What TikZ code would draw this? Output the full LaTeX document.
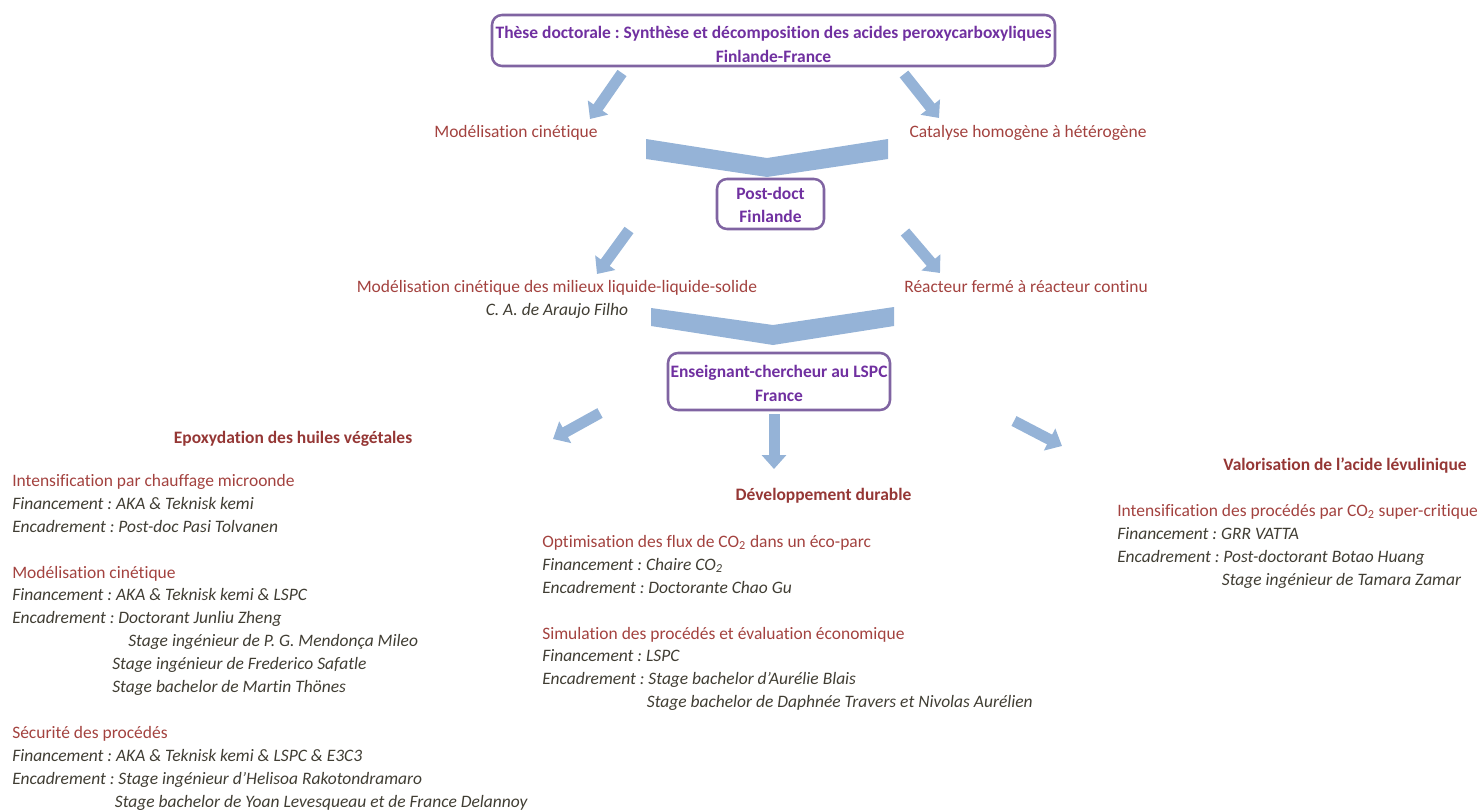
\documentclass[tikz,border=0pt]{standalone}
\usepackage{fontspec}
\setmainfont{Carlito}[Ligatures={NoCommon}]
\usetikzlibrary{arrows.meta}
\definecolor{boxline}{HTML}{8064A2}
\definecolor{boxtext}{HTML}{7030A0}
\definecolor{arrowblue}{HTML}{95B3D7}
\definecolor{redtxt}{HTML}{A3423F}
\definecolor{headred}{HTML}{953735}
\definecolor{graytxt}{HTML}{403D33}
\newcommand\lineT[1]{{\color{redtxt}#1}}
\newcommand\lineI[1]{{\color{graytxt}\itshape #1}}
\frenchspacing
\begin{document}
\begin{tikzpicture}[x=0.75pt,y=-0.75pt,
  box/.style={draw=boxline, line width=1.9pt, rounded corners=7.5pt, text=boxtext,
    font=\bfseries\fontsize{13.1}{18}\selectfont, align=center, inner sep=0pt},
  lab/.style={text=redtxt, font=\fontsize{13.1}{17.2}\selectfont, inner sep=0pt, align=center},
  heading/.style={text=headred, font=\bfseries\fontsize{13.1}{17.2}\selectfont, inner sep=0pt},
  col/.style={font=\fontsize{13.1}{17.2}\selectfont, align=left, inner sep=0pt, anchor=north west},
  barrow/.style={draw=arrowblue, line width=8.25pt, -{Triangle[width=18pt,length=10.5pt]}},
  chev/.style={fill=arrowblue, draw=none}]
\useasboundingbox (0,0) rectangle (1482,810);

% boxes
\node[box, minimum width=422.25pt, minimum height=38.25pt] (these) at (773.5,40.5)
  {\rule{0pt}{15.75pt}Thèse doctorale : Synthèse et décomposition des acides peroxycarboxyliques\\Finlande-France};
\node[box, minimum width=80.25pt, minimum height=37.5pt, font=\bfseries\fontsize{13.1}{17.25}\selectfont] (postdoc) at (770.5,204)
  {\rule{0pt}{11.25pt}Post-doct\\Finlande};
\node[box, minimum width=166.5pt, minimum height=42.75pt] (lspc) at (779,381.5)
  {\rule{0pt}{12.75pt}Enseignant-chercheur au LSPC\\France};

% first level labels
\node[lab, anchor=base] (modcin) at (516,137) {Modélisation cinétique};
\node[lab, anchor=base] (catal) at (1028,137) {Catalyse homogène à hétérogène};
\node[lab, anchor=north] (modlls) at (557,276)
  {\strut Modélisation cinétique des milieux liquide-liquide-solide\\\lineI{C. A. de Araujo Filho}};
\node[lab, anchor=base] (reac) at (1026,292) {Réacteur fermé à réacteur continu};

% headings
\node[heading, anchor=base] (epox) at (293,443) {Epoxydation des huiles végétales};
\node[heading, anchor=base] (dev) at (823.5,500) {Développement durable};
\node[heading, anchor=base] (valo) at (1345,470) {Valorisation de l’acide lévulinique};

% columns
\node[col] (colL) at (12,470) {\strut\lineT{Intensification par chauffage microonde}\\
\lineI{Financement : AKA \& Teknisk kemi}\\
\lineI{Encadrement : Post-doc Pasi Tolvanen}\\[17.2pt]
\lineT{Modélisation cinétique}\\
\lineI{Financement : AKA \& Teknisk kemi \& LSPC}\\
\lineI{Encadrement : Doctorant Junliu Zheng}\\
\lineI{\hspace*{87pt}Stage ingénieur de P. G. Mendonça Mileo}\\
\lineI{\hspace*{75pt}Stage ingénieur de Frederico Safatle}\\
\lineI{\hspace*{75pt}Stage bachelor de Martin Thönes}\\[17.2pt]
\lineT{Sécurité des procédés}\\
\lineI{Financement : AKA \& Teknisk kemi \& LSPC \& E3C3}\\
\lineI{Encadrement : Stage ingénieur d’Helisoa Rakotondramaro}\\
\lineI{\hspace*{77pt}Stage bachelor de Yoan Levesqueau et de France Delannoy}};

\node[col] (colM) at (542,531) {\strut\lineT{Optimisation des flux de CO\textsubscript{2} dans un éco-parc}\\
\lineI{Financement : Chaire CO\textsubscript{2}}\\
\lineI{Encadrement : Doctorante Chao Gu}\\[17.2pt]
\lineT{Simulation des procédés et évaluation économique}\\
\lineI{Financement : LSPC}\\
\lineI{Encadrement : Stage bachelor d’Aurélie Blais}\\
\lineI{\hspace*{78.5pt}Stage bachelor de Daphnée Travers et Nivolas Aurélien}};

\node[col] (colR) at (1117,500) {\strut\lineT{Intensification des procédés par CO\textsubscript{2} super-critique}\\
\lineI{Financement : GRR VATTA}\\
\lineI{Encadrement : Post-doctorant Botao Huang}\\
\lineI{\hspace*{78.5pt}Stage ingénieur de Tamara Zamar}};

% arrow coordinates
\coordinate (a1s) at (622,73);   \coordinate (a1e) at (590,119);
\coordinate (a2s) at (904,74);   \coordinate (a2e) at (939,118);
\coordinate (a3s) at (629,230);  \coordinate (a3e) at (597,274);
\coordinate (a4s) at (905,232);  \coordinate (a4e) at (940,273);
\coordinate (a5s) at (600,413);  \coordinate (a5e) at (553,439);
\coordinate (a6s) at (774,414);  \coordinate (a6e) at (774,469);
\coordinate (a7s) at (1014,421); \coordinate (a7e) at (1062,446);

\draw[barrow] (a1s) -- (a1e);
\draw[barrow] (a2s) -- (a2e);
\draw[barrow] (a3s) -- (a3e);
\draw[barrow] (a4s) -- (a4e);
\draw[barrow] (a5s) -- (a5e);
\draw[barrow] (a6s) -- (a6e);
\draw[barrow] (a7s) -- (a7e);

% chevrons
\fill[chev] (646,139) -- (767,158) -- (888,139) -- (888,159) -- (767,177) -- (646,159) -- cycle;
\fill[chev] (651,308) -- (773,325) -- (894,307) -- (894,326) -- (773,345) -- (651,326) -- cycle;
\end{tikzpicture}
\end{document}
